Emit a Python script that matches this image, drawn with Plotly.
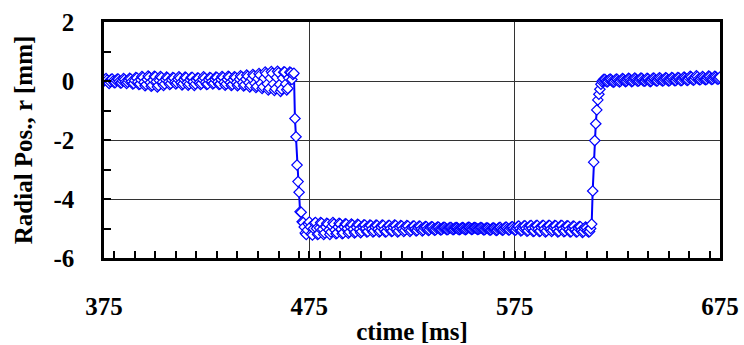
import numpy as np
import plotly.graph_objects as go

step_ms = 0.5

# segment 1: before the shift, starting at 375 ms
pre_start = 375.0
pre_vals = [
    0.0, 0.05, 0.08, 0.03, -0.04, -0.08, -0.02, 0.06, 0.07, 0.0, -0.06, -0.05,
    0.02, 0.07, 0.06, -0.01, -0.07, -0.06, 0.01, 0.08, 0.05, -0.03, -0.08, -0.04,
    0.03, 0.09, 0.07, -0.02, -0.1, -0.08, 0.02, 0.12, 0.1, -0.03, -0.12, -0.1,
    0.04, 0.15, 0.12, -0.04, -0.16, -0.12, 0.05, 0.17, 0.13, -0.05, -0.18, -0.14,
    0.03, 0.16, 0.14, -0.02, -0.2, -0.15, 0.02, 0.15, 0.12, -0.04, -0.15, -0.1,
    0.05, 0.13, 0.1, -0.03, -0.12, -0.08, 0.04, 0.12, 0.1, -0.04, -0.1, -0.06,
    0.06, 0.14, 0.1, -0.05, -0.13, -0.09, 0.05, 0.13, 0.11, -0.06, -0.14, -0.1,
    0.04, 0.12, 0.12, -0.03, -0.15, -0.1, 0.03, 0.1, 0.09, -0.05, -0.12, -0.08,
    0.05, 0.14, 0.1, -0.04, -0.12, -0.1, 0.04, 0.12, 0.1, -0.02, -0.1, -0.07,
    0.06, 0.13, 0.12, -0.03, -0.12, -0.1, 0.05, 0.15, 0.12, -0.04, -0.14, -0.1,
    0.05, 0.16, 0.13, -0.05, -0.15, -0.12, 0.04, 0.14, 0.12, -0.06, -0.16, -0.12,
    0.06, 0.18, 0.14, -0.05, -0.17, -0.13, 0.06, 0.2, 0.16, -0.06, -0.2, -0.15,
    0.08, 0.22, 0.18, -0.08, -0.22, -0.18, 0.08, 0.25, 0.2, -0.08, -0.25, -0.2,
    0.1, 0.3, 0.25, -0.1, -0.3, -0.25, 0.1, 0.32, 0.26, -0.1, -0.32, -0.26,
    0.12, 0.33, 0.28, -0.12, -0.35, -0.28, 0.1, 0.3, 0.3, -0.1, -0.3, -0.25,
    0.1, 0.3, 0.28, 0.05, 0.22, 0.26,
]

# segment 2: the drop
drop_t = [468.0, 468.5, 469.0, 469.5, 470.0, 470.5, 471.0, 471.5]
drop_vals = [-1.27, -1.89, -2.85, -3.41, -3.77, -4.43, -4.45, -4.77]

# segment 3: shifted plateau, starting at 472 ms
low_start = 472.0
low_vals = [
    -4.8, -4.95, -5.15, -5.2, -5.05, -4.85, -4.78, -4.95, -5.18, -5.22, -5.0, -4.82,
    -4.8, -5.0, -5.2, -5.18, -4.98, -4.8, -4.82, -5.02, -5.2, -5.15, -4.95, -4.82,
    -4.85, -5.05, -5.2, -5.12, -4.92, -4.8, -4.85, -5.05, -5.18, -5.15, -4.95, -4.82,
    -4.85, -5.02, -5.18, -5.15, -4.95, -4.84, -4.86, -5.0, -5.16, -5.12, -4.95, -4.85,
    -4.88, -5.02, -5.15, -5.12, -4.96, -4.86, -4.88, -5.02, -5.14, -5.1, -4.95, -4.88,
    -4.88, -5.0, -5.12, -5.1, -4.96, -4.88, -4.9, -5.02, -5.12, -5.08, -4.95, -4.88,
    -4.9, -5.02, -5.12, -5.08, -4.95, -4.88, -4.9, -5.04, -5.12, -5.1, -4.96, -4.9,
    -4.9, -5.0, -5.1, -5.08, -4.96, -4.88, -4.9, -5.02, -5.12, -5.08, -4.96, -4.9,
    -4.92, -5.02, -5.1, -5.06, -4.95, -4.9, -4.92, -5.04, -5.1, -5.06, -4.96, -4.92,
    -4.92, -5.02, -5.08, -5.06, -4.97, -4.92, -4.93, -5.02, -5.08, -5.05, -4.97, -4.93,
    -4.94, -5.02, -5.07, -5.04, -4.97, -4.94, -4.95, -5.02, -5.06, -5.04, -4.98, -4.95,
    -4.96, -5.02, -5.05, -5.03, -4.98, -4.96, -4.97, -5.01, -5.04, -5.03, -4.99, -4.97,
    -4.97, -5.01, -5.04, -5.02, -4.98, -4.97, -4.98, -5.02, -5.04, -5.02, -4.99, -4.97,
    -4.98, -5.02, -5.04, -5.02, -4.98, -4.96, -4.97, -5.0, -5.03, -5.02, -4.98, -4.97,
    -4.98, -5.01, -5.03, -5.02, -4.99, -4.97, -4.98, -5.02, -5.05, -5.03, -4.99, -4.98,
    -4.99, -5.03, -5.06, -5.04, -5.0, -4.98, -4.99, -5.03, -5.07, -5.05, -5.0, -4.97,
    -4.97, -5.02, -5.06, -5.04, -4.99, -4.96, -4.96, -5.01, -5.05, -5.04, -4.98, -4.95,
    -4.94, -5.0, -5.06, -5.05, -4.98, -4.93, -4.92, -5.0, -5.08, -5.06, -4.97, -4.92,
    -4.91, -5.0, -5.09, -5.07, -4.97, -4.91, -4.9, -5.0, -5.1, -5.08, -4.97, -4.9,
    -4.9, -5.02, -5.1, -5.08, -4.96, -4.9, -4.9, -5.02, -5.12, -5.08, -4.95, -4.9,
    -4.9, -5.02, -5.1, -5.06, -4.95, -4.9, -4.91, -5.03, -5.12, -5.09, -4.96, -4.9,
    -4.9, -5.02, -5.11, -5.08, -4.96, -4.91, -4.92, -5.04, -5.12, -5.1, -4.97, -4.92,
    -4.93, -5.04, -5.12, -5.1, -4.98, -4.93, -4.94, -5.06, -5.13, -5.1, -5.0, -4.95,
    -4.98, -5.08, -5.12, -5.1, -5.0,
]

# segment 4: the return
rise_t = [612.5, 613.0, 613.5, 614.0, 614.5, 615.0, 615.5, 616.0, 616.5, 617.0]
rise_vals = [-4.85, -3.73, -2.75, -2.02, -1.45, -0.98, -0.64, -0.45, -0.28, -0.11]

# segment 5: after the return, starting at 617.5 ms
post_start = 617.5
post_vals = [
    -0.02, 0.02, 0.06, 0.05, 0.0, -0.03, -0.01, 0.04, 0.07, 0.04, -0.01, -0.04,
    -0.02, 0.03, 0.07, 0.05, 0.0, -0.03, -0.01, 0.04, 0.08, 0.06, 0.01, -0.02,
    0.0, 0.05, 0.09, 0.07, 0.02, -0.02, 0.0, 0.06, 0.1, 0.07, 0.02, -0.01,
    0.01, 0.06, 0.1, 0.08, 0.02, -0.01, 0.0, 0.05, 0.09, 0.07, 0.01, -0.02,
    0.0, 0.06, 0.1, 0.08, 0.03, 0.0, 0.01, 0.07, 0.11, 0.08, 0.03, 0.0,
    0.02, 0.07, 0.11, 0.09, 0.03, 0.0, 0.02, 0.07, 0.12, 0.1, 0.04, 0.01,
    0.02, 0.08, 0.12, 0.1, 0.04, 0.01, 0.03, 0.09, 0.13, 0.1, 0.05, 0.02,
    0.04, 0.1, 0.16, 0.13, 0.06, 0.03, 0.05, 0.12, 0.18, 0.14, 0.07, 0.04,
    0.05, 0.1, 0.15, 0.12, 0.06, 0.04, 0.06, 0.12, 0.17, 0.14, 0.08, 0.05,
    0.07, 0.12, 0.16, 0.13, 0.08, 0.06, 0.09, 0.13,
]

x_tickvals = [375, 475, 575, 675]
y_tickvals = [-6, -4, -2, 0, 2]
x_title = "ctime [ms]"
y_title = "Radial Pos., r [mm]"

# ---- assemble ----
t = (list(pre_start + step_ms * np.arange(len(pre_vals)))
     + drop_t
     + list(low_start + step_ms * np.arange(len(low_vals)))
     + rise_t
     + list(post_start + step_ms * np.arange(len(post_vals))))
r = pre_vals + drop_vals + low_vals + rise_vals + post_vals

FONT = "Liberation Serif"
BLUE = "#0000FF"

fig = go.Figure()
fig.add_trace(go.Scatter(
    x=t, y=r, mode="lines+markers",
    line=dict(color=BLUE, width=2),
    marker=dict(symbol="diamond", size=8, color="white", line=dict(color=BLUE, width=1.2)),
    showlegend=False,
))

fig.update_layout(
    width=744, height=345,
    margin=dict(l=104, r=24, t=22, b=87, autoexpand=False),
    paper_bgcolor="white", plot_bgcolor="white",
    font=dict(family=FONT, size=25, color="black", weight="bold"),
    xaxis=dict(
        range=[375, 675], tickvals=x_tickvals, ticktext=[str(v) for v in x_tickvals],
        ticks="inside", ticklen=7, tickwidth=2, tickcolor="black",
        minor=dict(dtick=10, ticks="inside", ticklen=7, tickwidth=1.5, tickcolor="black", showgrid=False),
        showgrid=True, gridcolor="#333333", gridwidth=1,
        showline=True, linecolor="black", linewidth=2.5, mirror=True,
        zeroline=False,
        tickfont=dict(family=FONT, size=25, weight="bold"),
        ticklabelstandoff=24,
        title=dict(text=x_title, font=dict(family=FONT, size=25, weight="bold"), standoff=6),
    ),
    yaxis=dict(
        range=[-6, 2], tickvals=y_tickvals, ticktext=[str(v) for v in y_tickvals],
        ticks="inside", ticklen=7, tickwidth=2, tickcolor="black",
        minor=dict(dtick=1, ticks="inside", ticklen=7, tickwidth=1.5, tickcolor="black", showgrid=False),
        showgrid=True, gridcolor="#333333", gridwidth=1,
        showline=True, linecolor="black", linewidth=2.5, mirror=True,
        zeroline=False,
        tickfont=dict(family=FONT, size=25, weight="bold"),
        ticklabelstandoff=22,
        title=dict(text=y_title, font=dict(family=FONT, size=25, weight="bold"), standoff=14),
    ),
)

fig.write_html("out.html")
